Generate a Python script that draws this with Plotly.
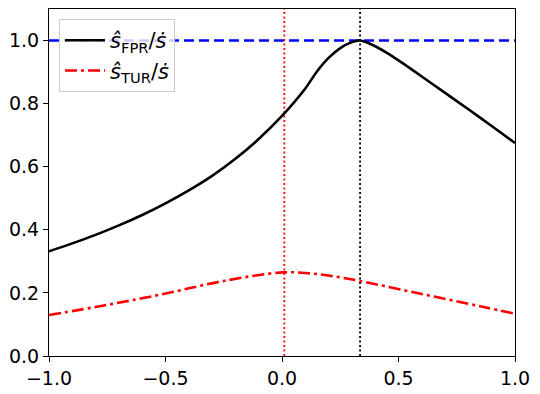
import plotly.graph_objects as go

# Data
x_fpr = [-1.0, -0.9, -0.8, -0.7, -0.6, -0.5, -0.4, -0.3, -0.2, -0.1, 0.0, 0.1, 0.15, 0.2, 0.25, 0.3,
         0.335, 0.4, 0.45, 0.5, 0.6, 0.7, 0.8, 0.9, 1.0]
y_fpr = [0.332, 0.357, 0.384, 0.414, 0.447, 0.484, 0.525, 0.571, 0.625, 0.688, 0.761, 0.848, 0.902,
         0.945, 0.976, 0.995, 1.0, 0.982, 0.961, 0.937, 0.886, 0.834, 0.782, 0.729, 0.675]

x_tur = [-1.0, -0.75, -0.5, -0.25, 0.0, 0.1, 0.2, 0.333, 0.57, 0.855, 1.0]
y_tur = [0.130, 0.162, 0.198, 0.238, 0.265, 0.263, 0.255, 0.238, 0.201, 0.157, 0.134]

ref_level = 1.0
x_red_vline = 0.01
x_black_vline = 0.335

x_range = [-1.0, 1.0]
y_range = [0.0, 1.1]
x_ticks = [-1.0, -0.5, 0.0, 0.5, 1.0]
y_ticks = [0.0, 0.2, 0.4, 0.6, 0.8, 1.0]

name_fpr = "<i>ŝ</i><sub>FPR</sub>/<i>ṡ</i>"
name_tur = "<i>ŝ</i><sub>TUR</sub>/<i>ṡ</i>"

FONT = "DejaVu Sans"

fig = go.Figure()

# reference horizontal line
fig.add_trace(go.Scatter(x=x_range, y=[ref_level, ref_level], mode="lines",
                         line=dict(color="#0000ff", width=2.6, dash="10px,5px"),
                         showlegend=False, hoverinfo="skip"))
# vertical dotted lines
fig.add_trace(go.Scatter(x=[x_red_vline, x_red_vline], y=y_range, mode="lines",
                         line=dict(color="#ff0000", width=1.8, dash="2px,2.5px"),
                         showlegend=False, hoverinfo="skip"))
fig.add_trace(go.Scatter(x=[x_black_vline, x_black_vline], y=y_range, mode="lines",
                         line=dict(color="#000000", width=1.8, dash="2px,2.5px"),
                         showlegend=False, hoverinfo="skip"))

fig.add_trace(go.Scatter(x=x_fpr, y=y_fpr, mode="lines", name=name_fpr,
                         line=dict(color="#000000", width=2.6, shape="spline", smoothing=0.7)))
fig.add_trace(go.Scatter(x=x_tur, y=y_tur, mode="lines", name=name_tur,
                         line=dict(color="#ff0000", width=2.6, shape="spline", smoothing=1.0,
                                   dash="12px,4px,3px,4px")))

axis_common = dict(showgrid=False, zeroline=False, showline=True, linecolor="black",
                   linewidth=1.2, mirror=True, ticks="outside", ticklen=5, tickwidth=1.2,
                   tickcolor="black", tickfont=dict(family=FONT, size=19, color="black"),
                   tickformat=".1f", automargin=False)

fig.update_xaxes(range=x_range, tickvals=x_ticks, **axis_common)
fig.update_yaxes(range=y_range, tickvals=y_ticks, **axis_common)

# page body has an 8px margin, so the figure is sized/offset to land the axes
# at the same window pixels as the reference
fig.update_layout(
    width=532, height=386,
    margin=dict(l=41, r=25, t=1, b=38),
    paper_bgcolor="white", plot_bgcolor="white",
    font=dict(family=FONT, size=19, color="black"),
    legend=dict(x=0.0215, y=0.971, xanchor="left", yanchor="top",
                bgcolor="rgba(255,255,255,0.8)", bordercolor="#cccccc", borderwidth=1,
                font=dict(family=FONT, size=21, color="black"), tracegroupgap=0,
                itemwidth=40),
)

fig.write_html("out.html")
